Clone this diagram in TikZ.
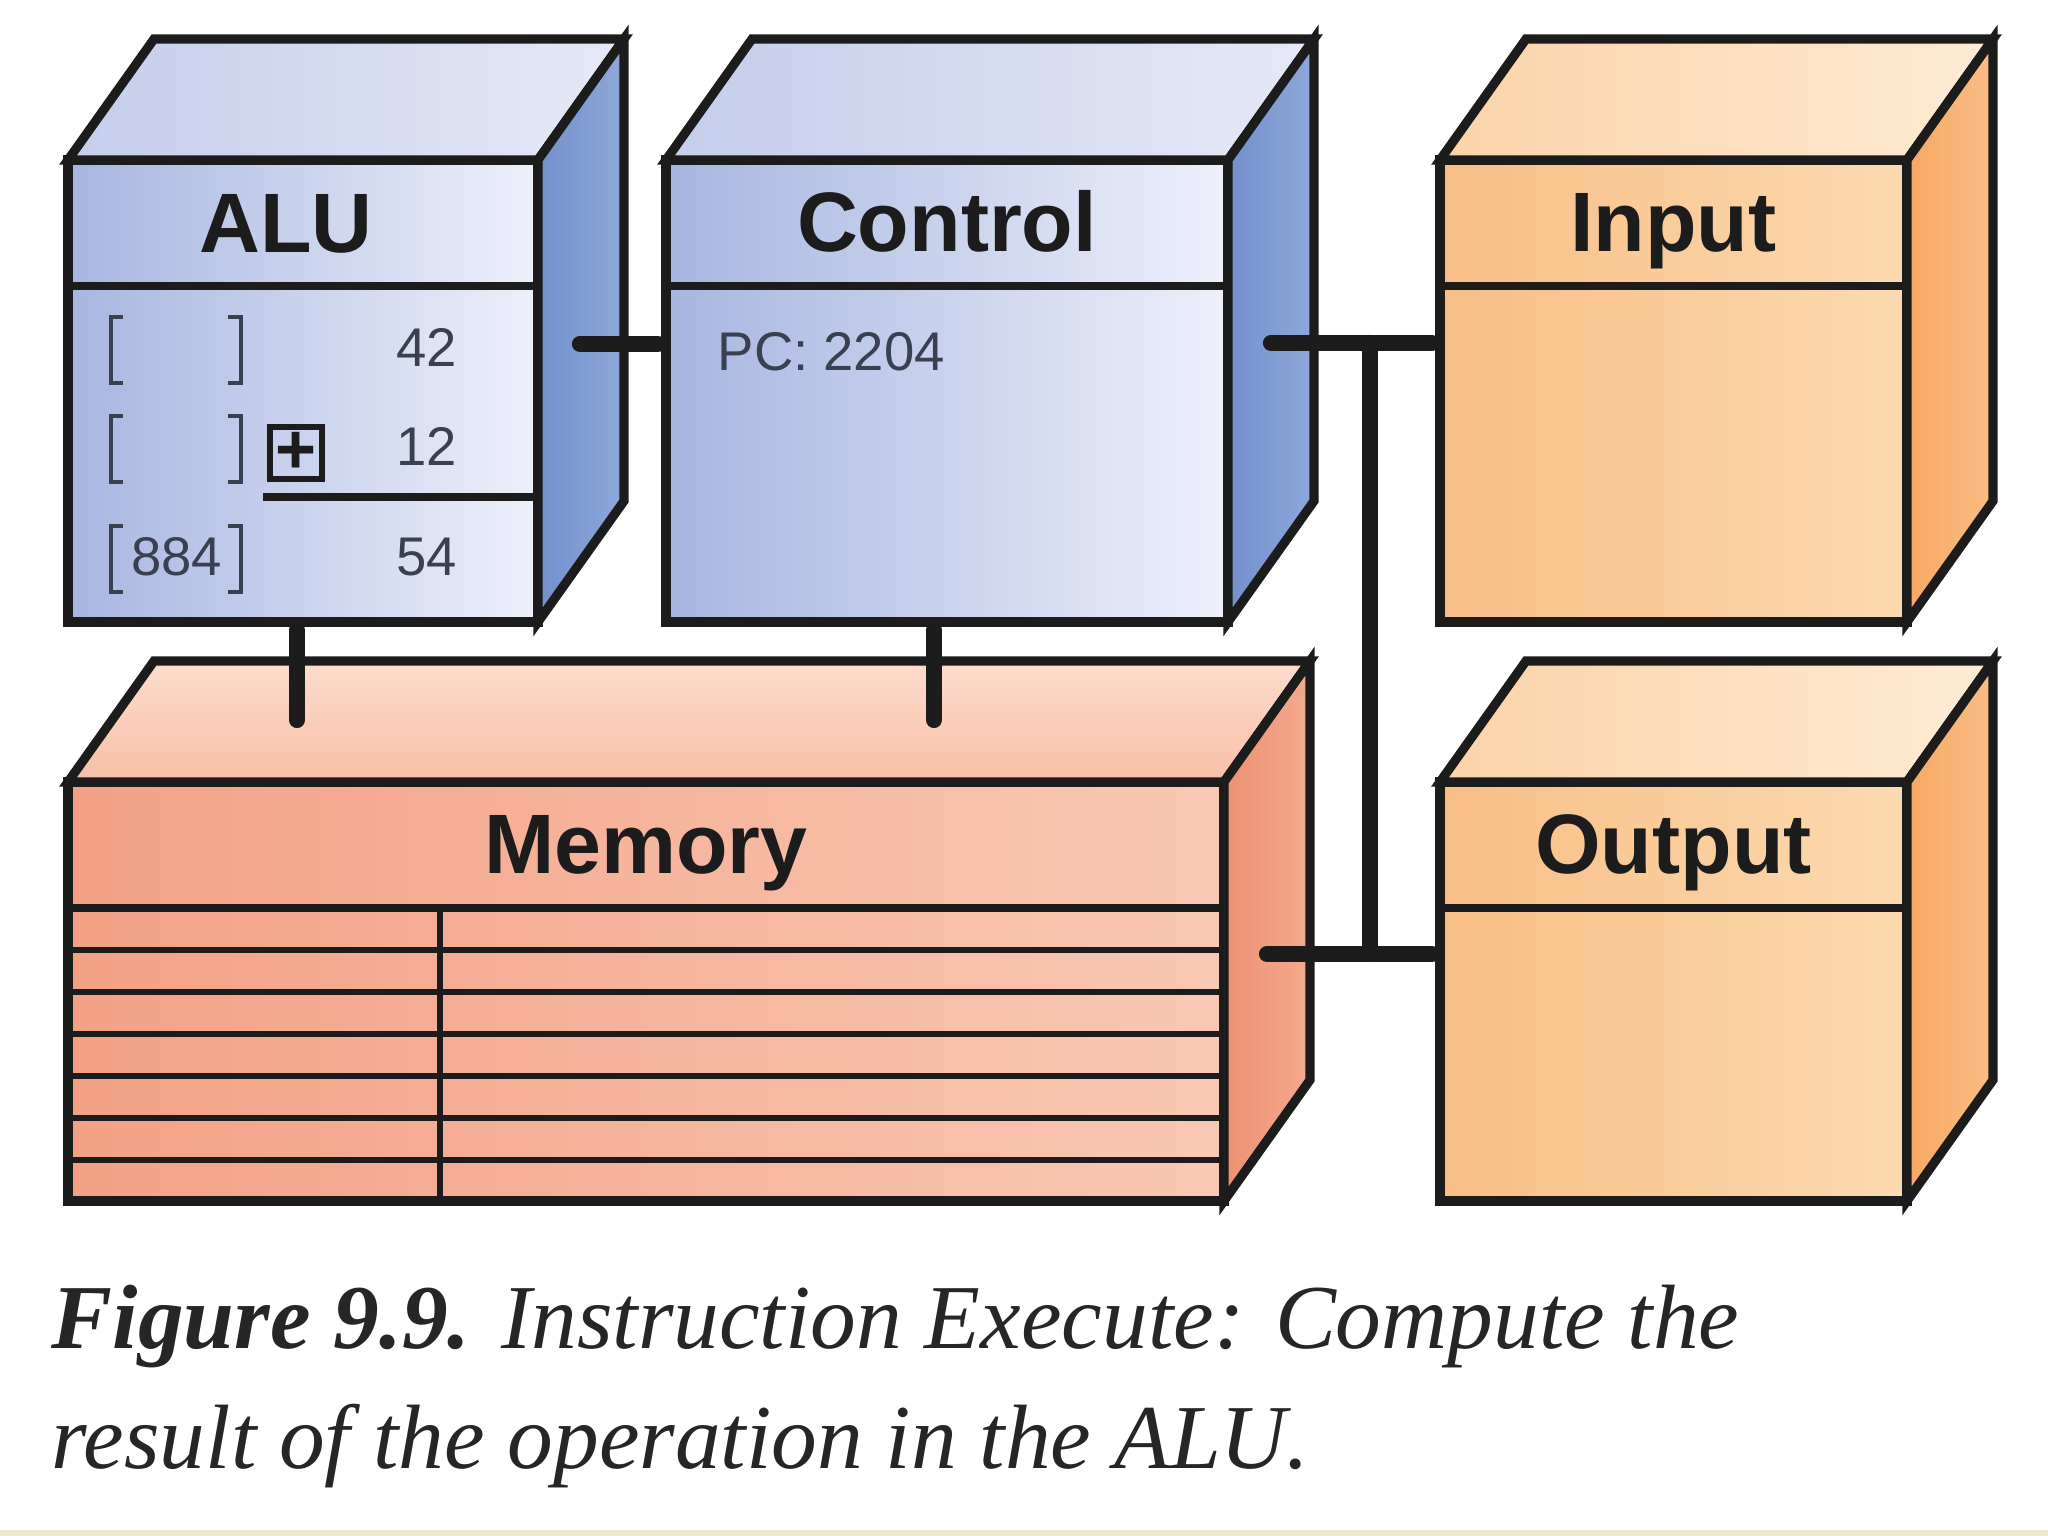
\documentclass[tikz,border=0pt]{standalone}
\usepackage{fontspec}
\setmainfont{Liberation Serif}
\setsansfont{Liberation Sans}
\usetikzlibrary{calc}

\definecolor{ink}{HTML}{1C1C1C}
\definecolor{slate}{HTML}{394050}
\definecolor{capink}{HTML}{262626}
\definecolor{band}{HTML}{EDE6C8}
% blue (ALU, Control)
\definecolor{blueFrontL}{HTML}{A6B6E0}
\definecolor{blueFrontR}{HTML}{EEF0FA}
\definecolor{blueTopL}{HTML}{C4CDEB}
\definecolor{blueTopR}{HTML}{E6E9F6}
\definecolor{blueSideL}{HTML}{7390CC}
\definecolor{blueSideR}{HTML}{8FA8DA}
% orange (Input, Output)
\definecolor{orangeFrontL}{HTML}{F8BE85}
\definecolor{orangeFrontR}{HTML}{FCDAB0}
\definecolor{orangeTopL}{HTML}{FBD3A8}
\definecolor{orangeTopR}{HTML}{FEEBD6}
\definecolor{orangeSideL}{HTML}{F6A862}
\definecolor{orangeSideR}{HTML}{F9BE86}
% salmon (Memory)
\definecolor{memFrontL}{HTML}{F3A185}
\definecolor{memFrontR}{HTML}{F9C8B4}
\definecolor{memTopT}{HTML}{FCDCCD}
\definecolor{memTopB}{HTML}{F8BFA7}
\definecolor{memSideL}{HTML}{EE9073}
\definecolor{memSideR}{HTML}{F4AA8E}

\begin{document}
\begin{tikzpicture}[
    front/.style={draw=ink, line width=2.6pt, outer sep=0pt, inner sep=0pt},
    blueface/.style={left color=blueFrontL, right color=blueFrontR},
    orangeface/.style={left color=orangeFrontL, right color=orangeFrontR},
    memface/.style={left color=memFrontL, right color=memFrontR},
    face/.style={draw=ink, line width=2.6pt},
    boxtitle/.style={font=\sffamily\bfseries\fontsize{24}{28}\selectfont, text=ink, inner sep=0pt, anchor=base},
    reading/.style={font=\sffamily\fontsize{15.5}{18}\selectfont, text=slate, inner sep=0pt},
    divider/.style={draw=ink, line width=2.4pt},
    rowline/.style={draw=ink, line width=1.7pt},
    bracket/.style={draw=slate, line width=1.3pt},
    bus/.style={draw=ink, line width=4.6pt, line cap=round},
    caption/.style={font=\fontsize{26}{33}\selectfont\itshape, text=capink, inner sep=0pt, anchor=base west}
]
\useasboundingbox (0,0) rectangle (20.48,15.36);

% front faces
\node[front, blueface, minimum width=4.70cm, minimum height=4.62cm] (alu) at (3.03,11.45) {};
\node[front, blueface, minimum width=5.62cm, minimum height=4.62cm] (ctl) at (9.47,11.45) {};
\node[front, orangeface, minimum width=4.67cm, minimum height=4.62cm] (inp) at (16.735,11.45) {};
\node[front, memface, minimum width=11.56cm, minimum height=4.19cm] (mem) at (6.46,5.445) {};
\node[front, orangeface, minimum width=4.67cm, minimum height=4.19cm] (out) at (16.735,5.445) {};

% top and side faces
\foreach \n/\tl/\tr/\sl/\sr in {alu/blueTopL/blueTopR/blueSideL/blueSideR,
    ctl/blueTopL/blueTopR/blueSideL/blueSideR,
    inp/orangeTopL/orangeTopR/orangeSideL/orangeSideR,
    out/orangeTopL/orangeTopR/orangeSideL/orangeSideR}{
  \draw[face, left color=\tl, right color=\tr] (\n.north west) -- ++(0.86,1.21)
    -- ([shift={(0.86,1.21)}]\n.north east) -- (\n.north east) -- cycle;
  \draw[face, left color=\sl, right color=\sr] (\n.north east) -- ++(0.86,1.21)
    -- ([shift={(0.86,1.21)}]\n.south east) -- (\n.south east) -- cycle;
}
\draw[face, top color=memTopT, bottom color=memTopB] (mem.north west) -- ++(0.86,1.21)
  -- ([shift={(0.86,1.21)}]mem.north east) -- (mem.north east) -- cycle;
\draw[face, left color=memSideL, right color=memSideR] (mem.north east) -- ++(0.86,1.21)
  -- ([shift={(0.86,1.21)}]mem.south east) -- (mem.south east) -- cycle;

% header lines and titles
\foreach \n in {alu,ctl,inp,mem,out}
  \draw[divider] ([yshift=-1.26cm]\n.north west) -- ([yshift=-1.26cm]\n.north east);
\node[boxtitle] (aluT) at (2.86,12.83) {ALU};
\node[boxtitle] (ctlT) at ([yshift=-0.92cm]ctl.north) {Control};
\node[boxtitle] (inpT) at ([yshift=-0.92cm]inp.north) {Input};
\node[boxtitle] (memT) at ([yshift=-0.92cm]mem.north) {Memory};
\node[boxtitle] (outT) at ([yshift=-0.92cm]out.north) {Output};

% ALU registers
\foreach \y in {11.69,10.70,9.60}{
  \draw[bracket] (1.23,\y+0.50) -- (1.11,\y+0.50) -- (1.11,\y-0.16) -- (1.23,\y-0.16);
  \draw[bracket] (2.28,\y+0.50) -- (2.41,\y+0.50) -- (2.41,\y-0.16) -- (2.28,\y-0.16);
}
\node[reading, anchor=base east] (opA) at (4.58,11.69) {42};
\node[reading, anchor=base east] (opB) at (4.58,10.70) {12};
\node[reading, anchor=base east] (sum) at (4.58,9.60) {54};
\node[reading, anchor=base] (res) at (1.765,9.60) {884};
\node[draw=ink, line width=1.8pt, minimum size=0.52cm, inner sep=0pt, text=ink,
      font=\sffamily\bfseries\fontsize{20}{20}\selectfont] (plus) at (2.96,10.83) {+};
\coordinate (uline) at (2.63,10.39);
\draw[divider] (uline) -- (uline -| alu.east);

% Control register
\node[reading, anchor=base west] (pc) at (7.17,11.65) {PC: 2204};

% Memory cells
\foreach \k in {1,...,6}
  \draw[rowline] ([yshift=-1.26cm-\k*0.42cm]mem.north west) -- ([yshift=-1.26cm-\k*0.42cm]mem.north east);
\draw[rowline] (4.40,6.28) -- (4.40,3.35);

% Connectors
\coordinate (aluport) at ($(alu.east)+(0.42,0.47)$);
\coordinate (ctlport) at ($(ctl.east)+(0.43,0.48)$);
\coordinate (memport) at ($(mem.east)+(0.43,0.375)$);
\coordinate (bustop) at (13.70,11.93);
\coordinate (busbot) at (13.70,5.82);
\coordinate (memA) at (2.97,8.16);
\coordinate (memC) at (9.34,8.16);
\draw[bus, shorten >=2.3pt] (aluport) -- (aluport -| ctl.west);
\draw[bus, shorten >=2.3pt] (ctlport) -- (ctlport -| inp.west);
\draw[bus, shorten >=2.3pt] (memport) -- (memport -| out.west);
\draw[bus] (bustop) -- (busbot);
\draw[bus, shorten <=2.3pt] (alu.south -| memA) -- (memA);
\draw[bus, shorten <=2.3pt] (ctl.south -| memC) -- (memC);

% Caption
\node[caption] (cap1) at (0.51,1.87) {\textbf{Figure 9.9.} Instruction Execute: Compute the};
\node[caption] (cap2) at ([yshift=-1.20cm]cap1.base west) {result of the operation in the ALU.};
\fill[band] (0,0) rectangle (20.48,0.06);
\end{tikzpicture}
\end{document}
